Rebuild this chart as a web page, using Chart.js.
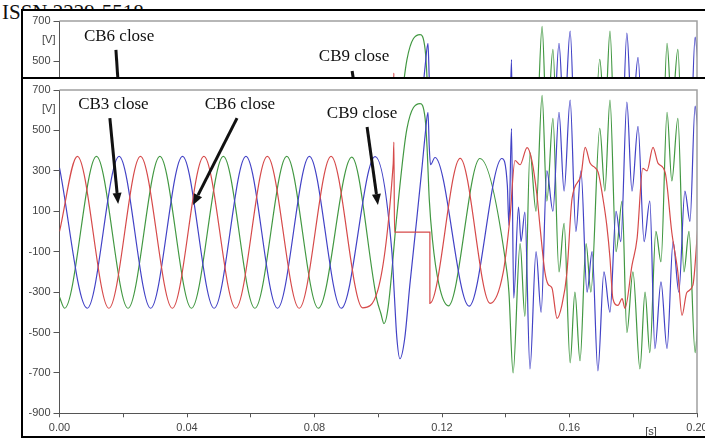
<!DOCTYPE html>
<html>
<head>
<meta charset="utf-8">
<script src="https://cdn.jsdelivr.net/npm/chart.js@4.4.1/dist/chart.umd.min.js"></script>
<style>
  body { margin: 0; width: 705px; height: 438px; overflow: hidden; position: relative; background: #fff; }
  #issn { position: absolute; left: 2px; top: 2px; font: 21px "Liberation Serif", serif; line-height: 1; white-space: nowrap; color: #111; }
  .box { position: absolute; left: 21px; width: 702px; border: 2px solid #000; background: #fff; overflow: hidden; }
  #topBox { top: 9px; height: 356px; }
  #mainBox { top: 77px; height: 357px; }
  canvas { display: block; }
</style>
</head>
<body>
<div id="issn">ISSN 2229-5518</div>
<div class="box" id="topBox"><canvas id="topChart" width="702" height="356"></canvas></div>
<div class="box" id="mainBox"><canvas id="mainChart" width="702" height="357"></canvas></div>
<script>
// phase voltages [s, V]: peaks, troughs and corners of each trace
const phaseA = [[0,0],[0.0056,372],[0.0155,-380],[0.0254,372],[0.0354,-380],[0.0453,372],[0.0553,-380],[0.0652,372],[0.0752,-380],[0.0852,372],[0.0951,-378],
  [0.1047,336],[0.1049,442],[0.1051,-3],[0.1162,-3],[0.1162,-356],[0.1257,362],[0.1351,-356],[0.1392,-203],[0.1413,64],[0.1429,351],[0.1445,330],
  [0.1467,415],[0.1482,351],[0.1498,178],[0.1508,15],[0.1523,-203],[0.1533,-262],[0.1545,-280],[0.1561,-430],[0.1576,-366],[0.1592,-203],[0.1608,163],
  [0.1636,277],[0.1649,416],[0.1665,337],[0.1680,316],[0.1690,292],[0.1705,163],[0.1717,30],[0.1727,-133],[0.1733,-282],[0.1736,-332],[0.1752,-366],
  [0.1765,-332],[0.1774,-381],[0.1796,-168],[0.1812,-35],[0.1830,312],[0.1843,300],[0.1862,416],[0.1878,337],[0.1900,292],[0.1921,-5],[0.1940,-203],
  [0.1953,-415],[0.1968,-302],[0.1987,-267],[0.2003,30]];

const phaseB = [[0,-325],[0.0016,-380],[0.0116,372],[0.0215,-380],[0.0315,372],[0.0414,-380],[0.0514,372],[0.0613,-380],[0.0713,372],[0.0812,-380],[0.0917,368],
  [0.0996,-340],[0.1008,-405],[0.1018,-456],[0.1031,-375],[0.1059,89],[0.1090,509],[0.1131,633],[0.1147,560],[0.1153,420],[0.1160,160],[0.1170,-40],
  [0.1190,-260],[0.1220,-368],[0.1319,361],[0.1404,-203],[0.1410,-302],[0.1423,-700],[0.1445,-60],[0.1460,-420],[0.1476,390],[0.1495,100],[0.1514,673],
  [0.1529,150],[0.1548,560],[0.1567,-200],[0.1583,40],[0.1602,-650],[0.1617,-300],[0.1633,-640],[0.1652,-60],[0.1667,-300],[0.1695,510],[0.1711,200],
  [0.1727,650],[0.1746,-100],[0.1765,150],[0.1780,-500],[0.1799,-200],[0.1821,-680],[0.1837,-300],[0.1852,-600],[0.1871,0],[0.1887,-150],[0.1906,590],
  [0.1921,250],[0.1940,560],[0.1959,-200],[0.1975,0],[0.1994,-600],[0.2003,-450]];

const phaseC = [[0,315],[0.0087,-380],[0.0187,372],[0.0286,-380],[0.0386,372],[0.0485,-380],[0.0585,372],[0.0684,-380],[0.0784,372],[0.0884,-380],[0.0990,370],
  [0.1043,-105],[0.1050,-300],[0.1058,-520],[0.1068,-630],[0.1083,-530],[0.1099,-267],[0.1121,64],[0.1137,312],[0.1147,475],[0.1156,589],[0.1160,420],
  [0.1164,330],[0.1178,366],[0.1285,-370],[0.1388,361],[0.1405,227],[0.1410,30],[0.1418,509],[0.1425,-330],[0.1440,120],[0.1448,-50],[0.1460,96],
  [0.1476,-680],[0.1495,-100],[0.1511,-400],[0.1529,300],[0.1548,100],[0.1567,590],[0.1583,200],[0.1602,650],[0.1620,0],[0.1636,300],[0.1655,-300],
  [0.1671,-100],[0.1689,-690],[0.1708,-200],[0.1727,-400],[0.1746,100],[0.1761,-50],[0.1780,640],[0.1796,200],[0.1815,520],[0.1834,-50],[0.1852,150],
  [0.1868,-580],[0.1887,-250],[0.1906,-580],[0.1925,-50],[0.1943,-300],[0.1962,200],[0.1978,50],[0.1994,620],[0.2003,500]];

const xTicks = [0, 0.2, 0.02];      // min, max, step
const yTicks = [-900, 700, 200];

// breaker labels: text position and arrow in data units
const mainNotes = [
  { text: 'CB3 close', at: [0.0169, 626], from: [0.0158, 561], to: [0.0184, 136] },
  { text: 'CB6 close', at: [0.0566, 626], from: [0.0557, 561], to: [0.0419, 131] },
  { text: 'CB9 close', at: [0.0949, 586], from: [0.0965, 517], to: [0.0999, 131] }
];
const topNotes = [
  { text: 'CB6 close', at: [0.0187, 621], from: [0.0177, 557], to: [0.0196, 111] },
  { text: 'CB9 close', at: [0.0924, 522], from: [0.0918, 453], to: [0.0952, 111] }
];

var toPoints = function(pts) {
  return pts.map(function(p) { return { x: p[0], y: p[1] }; });
};

const framePlugin = {
  id: 'frame',
  afterDraw: function(chart, args, opts) {
    const ctx = chart.ctx, a = chart.chartArea, x = chart.scales.x, y = chart.scales.y;
    ctx.save();
    ctx.strokeStyle = '#a0a0a0';
    ctx.lineWidth = 1.5;
    ctx.beginPath();
    ctx.moveTo(a.left, a.top);
    ctx.lineTo(a.right, a.top);
    ctx.lineTo(a.right, a.bottom);
    ctx.stroke();

    ctx.fillStyle = '#444';
    ctx.font = '11px "Liberation Sans", Arial, sans-serif';
    ctx.textAlign = 'right';
    ctx.textBaseline = 'middle';
    ctx.fillText('[V]', a.left - 4, y.getPixelForValue(608));
    ctx.textAlign = 'center';
    ctx.fillText('[s]', x.getPixelForValue(0.1856), a.bottom + 19);

    ctx.fillStyle = '#111';
    ctx.strokeStyle = '#111';
    ctx.font = '17px "Liberation Serif", serif';
    opts.notes.forEach(function(n) {
      ctx.fillText(n.text, x.getPixelForValue(n.at[0]), y.getPixelForValue(n.at[1]));
      var x1 = x.getPixelForValue(n.from[0]), y1 = y.getPixelForValue(n.from[1]);
      var x2 = x.getPixelForValue(n.to[0]), y2 = y.getPixelForValue(n.to[1]);
      var ang = Math.atan2(y2 - y1, x2 - x1);
      var hl = 11, hw = 4.5;
      var bx = x2 - hl * Math.cos(ang), by = y2 - hl * Math.sin(ang);
      ctx.lineWidth = 3;
      ctx.beginPath();
      ctx.moveTo(x1, y1);
      ctx.lineTo(bx, by);
      ctx.stroke();
      ctx.beginPath();
      ctx.moveTo(x2, y2);
      ctx.lineTo(bx + hw * Math.sin(ang), by - hw * Math.cos(ang));
      ctx.lineTo(bx - hw * Math.sin(ang), by + hw * Math.cos(ang));
      ctx.closePath();
      ctx.fill();
    });
    ctx.restore();
  }
};

function makeChart(id, padTop, notes) {
  var tickFont = { family: '"Liberation Sans", Arial, sans-serif', size: 11 };
  return new Chart(document.getElementById(id), {
    type: 'line',
    data: {
      datasets: [
        { label: 'A', data: toPoints(phaseA), borderColor: 'rgb(214,74,74)' },
        { label: 'C', data: toPoints(phaseC), borderColor: 'rgb(66,66,198)' },
        { label: 'B', data: toPoints(phaseB), borderColor: 'rgb(66,152,66)' }
      ]
    },
    plugins: [framePlugin],
    options: {
      responsive: false,
      animation: false,
      events: [],
      layout: { padding: { top: padTop, right: 28, left: 0, bottom: 0 } },
      elements: {
        point: { radius: 0 },
        line: { borderWidth: 1.2, cubicInterpolationMode: 'monotone' }
      },
      plugins: {
        legend: { display: false },
        tooltip: { enabled: false },
        frame: { notes: notes }
      },
      scales: {
        x: {
          type: 'linear',
          min: xTicks[0],
          max: xTicks[1],
          afterFit: function(s) { s.height = 22.7; },
          grid: { drawOnChartArea: false, tickLength: 4, color: '#555' },
          border: { color: '#555' },
          ticks: {
            stepSize: xTicks[2],
            autoSkip: false,
            maxRotation: 0,
            padding: 4,
            color: '#444',
            font: tickFont,
            callback: function(v, i) { return i % 2 ? '' : v.toFixed(2); }
          }
        },
        y: {
          min: yTicks[0],
          max: yTicks[1],
          afterFit: function(s) { s.width = 36.5; },
          grid: { drawOnChartArea: false, tickLength: 6, color: '#555' },
          border: { color: '#555' },
          ticks: { stepSize: yTicks[2], padding: 3, color: '#444', font: tickFont }
        }
      }
    }
  });
}

var topChart = makeChart('topChart', 10, topNotes);
var mainChart = makeChart('mainChart', 11, mainNotes);
</script>
</body>
</html>
